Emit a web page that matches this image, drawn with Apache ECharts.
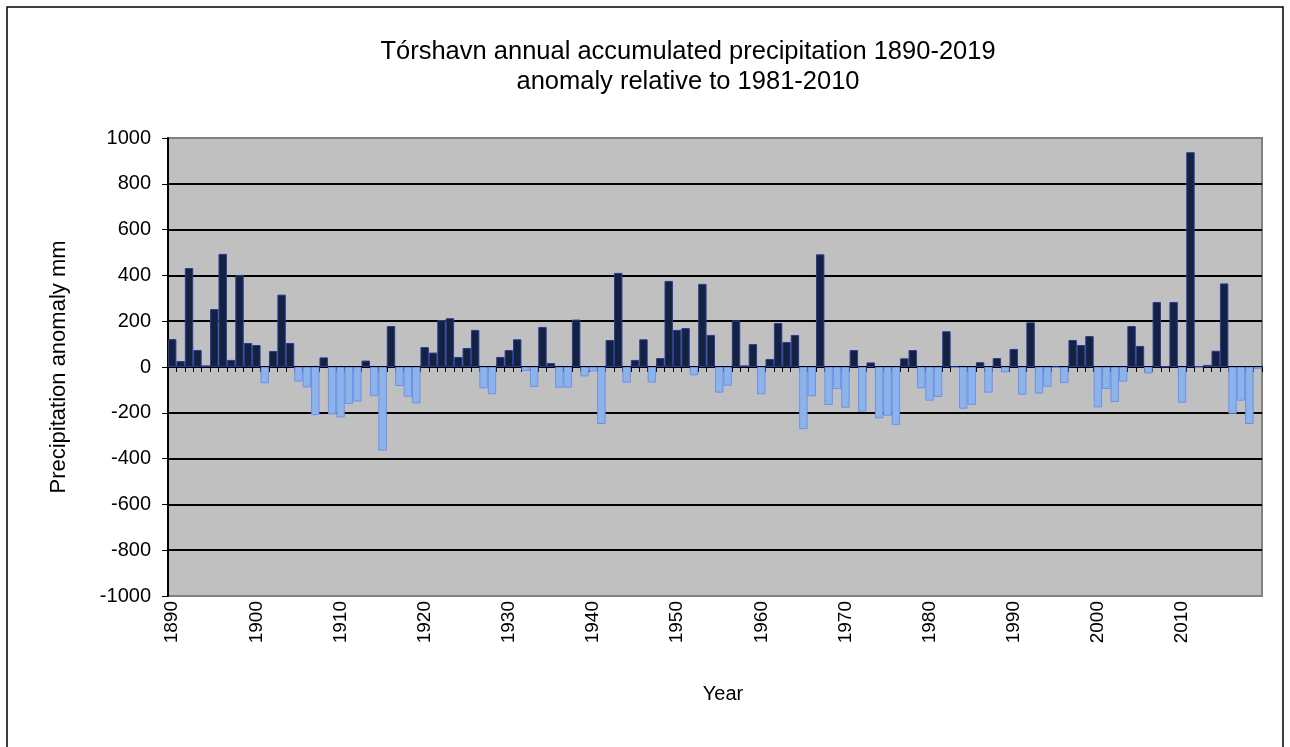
<!DOCTYPE html>
<html>
<head>
<meta charset="utf-8">
<script src="https://cdn.jsdelivr.net/npm/echarts@6/dist/echarts.min.js"></script>
<style>
  html, body { margin: 0; padding: 0; background: #fff; }
  #chart { width: 1290px; height: 747px; }
</style>
</head>
<body>
<div id="chart"></div>
<script>
// years 1890..2019
const years = []
for (let y = 1890; y <= 2019; y++) years.push(String(y))

// precipitation anomaly (mm)
const anomaly = [
  122, 26, 432, 74, 7, 253, 494, 31, 402, 105,        // 1890s
  96, -71, 70, 316, 105, -64, -89, -210, 42, -207,     // 1900s
  -220, -162, -151, 28, -127, -365, 179, -83, -130, -159, // 1910s
  87, 63, 205, 213, 44, 83, 162, -93, -119, 44,        // 1920s
  74, 121, -17, -87, 175, 17, -90, -90, 207, -41,      // 1930s
  -19, -249, 118, 411, -68, 31, 121, -68, 39, 376,     // 1940s
  162, 170, -36, 363, 140, -112, -82, 204, 7, 100,     // 1950s
  -119, 35, 192, 109, 140, -271, -128, 492, -166, -96, // 1960s
  -178, 74, -195, 20, -224, -213, -253, 38, 74, -93,   // 1970s
  -147, -131, 156, -3, -182, -165, 21, -112, 39, -23,  // 1980s
  79, -121, 195, -116, -86, -3, -70, 118, 96, 135,     // 1990s
  -176, -96, -153, -64, 179, 92, -28, 284, 2, 284,     // 2000s
  -156, 938, -2, 9, 71, 365, -204, -147, -249, -8      // 2010s
]

const yTicks = { min: -1000, max: 1000, step: 200 }

const posColor = '#13233f', posBorder = '#2a3a9a'
const negColor = '#8db4e8', negBorder = '#6d8ff0'

const barData = anomaly.map(v => ({
  value: v,
  itemStyle: v >= 0
    ? { color: posColor, borderColor: posBorder, borderWidth: 1 }
    : { color: negColor, borderColor: negBorder, borderWidth: 1 }
}))

const font = 'Liberation Sans, Arial, sans-serif'
const chart = echarts.init(document.getElementById('chart'))
chart.setOption({
  animation: false,
  backgroundColor: '#fff',
  textStyle: { fontFamily: font },
  title: {
    text: 'Tórshavn annual accumulated precipitation 1890-2019\nanomaly relative to 1981-2010',
    left: 683,
    textAlign: 'center',
    top: 32,
    textStyle: { fontFamily: font, fontSize: 25.5, fontWeight: 'normal', color: '#000', lineHeight: 30 }
  },
  graphic: [{
    type: 'rect',
    shape: { x: 7, y: 7, width: 1276, height: 800 },
    style: { fill: null, stroke: '#000', lineWidth: 1.5 },
    silent: true
  }],
  grid: {
    left: 168, right: 28, top: 138, bottom: 151,
    show: true, backgroundColor: '#c0c0c0', borderColor: '#808080', borderWidth: 2
  },
  xAxis: [{
    type: 'category',
    data: years,
    position: 'bottom',
    axisLine: { onZero: true, lineStyle: { color: '#000', width: 1.5 } },
    axisTick: { show: true, interval: 0, length: 5, lineStyle: { color: '#000' } },
    axisLabel: { show: false },
    splitLine: { show: false }
  }, {
    type: 'category',
    data: years,
    position: 'bottom',
    axisLine: { show: false },
    axisTick: { show: false },
    axisLabel: {
      interval: 9, rotate: 90, margin: 5,
      fontFamily: font, fontSize: 19, color: '#000'
    },
    name: 'Year',
    nameLocation: 'middle',
    nameGap: 88,
    nameTextStyle: { fontFamily: font, fontSize: 20, color: '#000', padding: [0, 0, 0, 16] }
  }],
  yAxis: {
    type: 'value',
    min: yTicks.min, max: yTicks.max, interval: yTicks.step,
    axisLine: { show: true, lineStyle: { color: '#000', width: 2 } },
    axisTick: { show: true, length: 6, lineStyle: { color: '#000' } },
    axisLabel: { fontFamily: font, fontSize: 20, color: '#000', margin: 17, formatter: v => String(v) },
    splitLine: { show: true, showMinLine: false, showMaxLine: false, lineStyle: { color: '#000', width: 2 } },
    name: 'Precipitation anomaly mm',
    nameLocation: 'middle',
    nameGap: 98,
    nameTextStyle: { fontFamily: font, fontSize: 22, color: '#000' }
  },
  series: [{
    type: 'bar',
    xAxisIndex: 0,
    data: barData,
    barCategoryGap: '0%'
  }]
})
</script>
</body>
</html>
